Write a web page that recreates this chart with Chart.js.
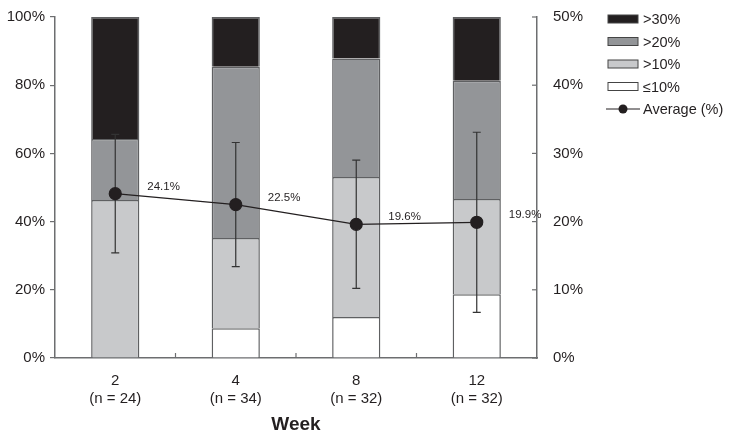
<!DOCTYPE html>
<html>
<head>
<meta charset="utf-8">
<script src="https://cdn.jsdelivr.net/npm/chart.js@4.4.0/dist/chart.umd.min.js"></script>
<style>
html,body{margin:0;padding:0;background:#fff;}
#wrap{width:729px;height:440px;position:relative;}
</style>
</head>
<body>
<div id="wrap"><canvas id="c" width="729" height="440"></canvas></div>
<script>
// data
const weeks = ['2','4','8','12'];
const nCounts = [24, 34, 32, 32];
const le10 = [0, 8.7, 12.0, 18.7];
const gt10 = [46.3, 26.5, 41.1, 27.9];
const gt20 = [17.9, 50.2, 34.7, 34.7];
const gt30 = [35.8, 14.6, 12.2, 18.7];
const avgPct = [24.1, 22.5, 19.6, 19.9];
const avgSd = [8.7, 9.1, 9.4, 13.2];
const leftTicks = [0, 20, 40, 60, 80, 100];
const rightTicks = [0, 10, 20, 30, 40, 50];

const FONT = '"Liberation Sans", Arial, sans-serif';
const AXIS = '#6d6e70';
const INK = '#231f20';
const COLORS = { gt30:'#231f20', gt20:'#939598', gt10:'#c8c9cb', le10:'#ffffff' };

const barStyle = { borderColor:'#5f6062', borderWidth:1.5, barPercentage:0.8, categoryPercentage:0.5, yAxisID:'y', order:1 };

const extras = {
  id:'extras',
  beforeDatasetDraw(chart, args){
    if (args.index !== 4) return;
    const x = chart.scales.x, y2 = chart.scales.y2, ctx = chart.ctx;
    ctx.save();
    ctx.strokeStyle = '#333'; ctx.lineWidth = 1.2;
    avgPct.forEach((v,i) => {
      const px = x.getPixelForValue(i);
      const t = y2.getPixelForValue(v + avgSd[i]), b = y2.getPixelForValue(v - avgSd[i]);
      ctx.beginPath();
      ctx.moveTo(px, t); ctx.lineTo(px, b);
      ctx.moveTo(px-4, t); ctx.lineTo(px+4, t);
      ctx.moveTo(px-4, b); ctx.lineTo(px+4, b);
      ctx.stroke();
    });
    ctx.restore();
  },
  afterDraw(chart){
    const ctx = chart.ctx, x = chart.scales.x, y2 = chart.scales.y2, a = chart.chartArea;
    ctx.save();
    // x ticks between categories, pointing up
    ctx.strokeStyle = AXIS; ctx.lineWidth = 1.2;
    for (let i = 0; i < weeks.length - 1; i++){
      const px = (x.getPixelForValue(i) + x.getPixelForValue(i+1)) / 2;
      ctx.beginPath(); ctx.moveTo(px, a.bottom); ctx.lineTo(px, a.bottom - 5); ctx.stroke();
    }
    // right axis ticks pointing inward
    rightTicks.forEach(t => {
      const py = y2.getPixelForValue(t);
      ctx.beginPath(); ctx.moveTo(a.right, py); ctx.lineTo(a.right - 5, py); ctx.stroke();
    });
    // value labels
    ctx.fillStyle = INK; ctx.font = '11.5px ' + FONT; ctx.textAlign = 'left'; ctx.textBaseline = 'middle';
    avgPct.forEach((v,i) => {
      ctx.fillText(v.toFixed(1) + '%', x.getPixelForValue(i) + 32, y2.getPixelForValue(v) - 7);
    });
    // legend
    const items = [['>30%', COLORS.gt30], ['>20%', COLORS.gt20], ['>10%', COLORS.gt10], ['\u226410%', COLORS.le10]];
    ctx.font = '14.5px ' + FONT;
    items.forEach((it, k) => {
      const cy = 19 + k * 22.5;
      ctx.fillStyle = it[1]; ctx.fillRect(608, cy - 4, 30, 8);
      ctx.strokeStyle = '#444'; ctx.lineWidth = 1; ctx.strokeRect(608, cy - 4, 30, 8);
      ctx.fillStyle = INK; ctx.fillText(it[0], 643, cy + 1);
    });
    const cy = 109;
    ctx.strokeStyle = INK; ctx.lineWidth = 1;
    ctx.beginPath(); ctx.moveTo(606, cy); ctx.lineTo(640, cy); ctx.stroke();
    ctx.fillStyle = INK; ctx.beginPath(); ctx.arc(623, cy, 4.5, 0, Math.PI*2); ctx.fill();
    ctx.fillText('Average (%)', 643, cy + 1);
    ctx.restore();
  }
};

new Chart(document.getElementById('c'), {
  type:'bar',
  data:{
    labels: weeks.map((w,i) => [w, '(n = ' + nCounts[i] + ')']),
    datasets:[
      Object.assign({ label:'\u226410%', data:le10, backgroundColor:COLORS.le10 }, barStyle),
      Object.assign({ label:'>10%', data:gt10, backgroundColor:COLORS.gt10 }, barStyle),
      Object.assign({ label:'>20%', data:gt20, backgroundColor:COLORS.gt20 }, barStyle),
      Object.assign({ label:'>30%', data:gt30, backgroundColor:COLORS.gt30 }, barStyle),
      { type:'line', label:'Average (%)', data:avgPct, yAxisID:'y2', order:0,
        borderColor:INK, borderWidth:1.2, pointRadius:6, pointBackgroundColor:INK, pointBorderColor:INK, tension:0 }
    ]
  },
  options:{
    responsive:false, animation:false,
    layout:{ padding:{ top:13, left:0, right:0, bottom:0 } },
    plugins:{ legend:{display:false}, tooltip:{enabled:false} },
    scales:{
      x:{ stacked:true, grid:{display:false}, border:{color:AXIS, width:1.5},
          ticks:{ color:INK, font:{family:FONT, size:15, lineHeight:1.2}, padding:6 },
          title:{ display:true, text:'Week', color:INK, font:{family:FONT, size:19, weight:'bold'}, padding:{top:0, bottom:4} },
          afterFit(s){ s.height = 82; } },
      y:{ stacked:true, min:0, max:100, position:'left',
          afterBuildTicks(s){ s.ticks = leftTicks.map(v => ({value:v})); },
          grid:{ drawOnChartArea:false, tickLength:5, color:AXIS, lineWidth:1.2 }, border:{color:AXIS, width:1.5},
          ticks:{ color:INK, font:{family:FONT, size:15}, padding:5, callback:v => v + '%' },
          afterFit(s){ s.width = 55; } },
      y2:{ min:0, max:50, position:'right',
          afterBuildTicks(s){ s.ticks = rightTicks.map(v => ({value:v})); },
          grid:{ display:false }, border:{color:AXIS, width:1.5},
          ticks:{ color:INK, font:{family:FONT, size:15}, padding:8, callback:v => v + '%' },
          afterFit(s){ s.width = 192; } }
    }
  },
  plugins:[extras]
});
</script>
</body>
</html>
